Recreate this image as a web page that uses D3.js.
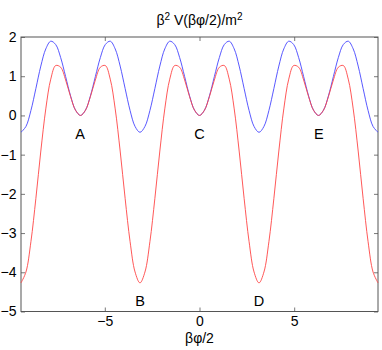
<!DOCTYPE html>
<html>
<head>
<meta charset="utf-8">
<script src="https://cdn.jsdelivr.net/npm/d3@7"></script>
<style>
  body { margin: 0; background: #fff; }
  text { font-family: "Liberation Sans", Arial, sans-serif; fill: #000; }
</style>
</head>
<body>
<div id="chart"></div>
<script>
// sample positions along βφ/2 (steps of π/12 from -3π to 3π)
const xs = [
  -9.425, -9.163, -8.901, -8.639, -8.378, -8.116, -7.854, -7.592, -7.330, -7.069, -6.807, -6.545,
  -6.283, -6.021, -5.760, -5.498, -5.236, -4.974, -4.712, -4.451, -4.189, -3.927, -3.665, -3.403,
  -3.142, -2.880, -2.618, -2.356, -2.094, -1.833, -1.571, -1.309, -1.047, -0.785, -0.524, -0.262,
  0,
  0.262, 0.524, 0.785, 1.047, 1.309, 1.571, 1.833, 2.094, 2.356, 2.618, 2.880, 3.142,
  3.403, 3.665, 3.927, 4.189, 4.451, 4.712, 4.974, 5.236, 5.498, 5.760, 6.021, 6.283,
  6.545, 6.807, 7.069, 7.330, 7.592, 7.854, 8.116, 8.378, 8.639, 8.901, 9.163, 9.425
];

// upper (blue) curve
const blueVals = [
  -0.430, -0.281, 0.126, 0.687, 1.259, 1.696, 1.893, 1.807, 1.474, 0.991, 0.498, 0.134,
  0, 0.134, 0.498, 0.991, 1.474, 1.807, 1.893, 1.696, 1.259, 0.687, 0.126, -0.281,
  -0.430, -0.281, 0.126, 0.687, 1.259, 1.696, 1.893, 1.807, 1.474, 0.991, 0.498, 0.134,
  0,
  0.134, 0.498, 0.991, 1.474, 1.807, 1.893, 1.696, 1.259, 0.687, 0.126, -0.281, -0.430,
  -0.281, 0.126, 0.687, 1.259, 1.696, 1.893, 1.807, 1.474, 0.991, 0.498, 0.134, 0,
  0.134, 0.498, 0.991, 1.474, 1.807, 1.893, 1.696, 1.259, 0.687, 0.126, -0.281, -0.430
];

// lower (red) curve
const redVals = [
  -4.270, -3.992, -3.219, -2.115, -0.908, 0.167, 0.925, 1.273, 1.228, 0.905, 0.479, 0.132,
  0, 0.132, 0.479, 0.905, 1.228, 1.273, 0.925, 0.167, -0.908, -2.115, -3.219, -3.992,
  -4.270, -3.992, -3.219, -2.115, -0.908, 0.167, 0.925, 1.273, 1.228, 0.905, 0.479, 0.132,
  0,
  0.132, 0.479, 0.905, 1.228, 1.273, 0.925, 0.167, -0.908, -2.115, -3.219, -3.992, -4.270,
  -3.992, -3.219, -2.115, -0.908, 0.167, 0.925, 1.273, 1.228, 0.905, 0.479, 0.132, 0,
  0.132, 0.479, 0.905, 1.228, 1.273, 0.925, 0.167, -0.908, -2.115, -3.219, -3.992, -4.270
];

const pointLabels = ["A", "B", "C", "D", "E"];
const pointX = [-6.3, -3.14, 0, 3.14, 6.3];
const pointY = [-0.47, -4.73, -0.47, -4.73, -0.47];

const xTicks = [-5, 0, 5];
const yTicks = [2, 1, 0, -1, -2, -3, -4, -5];

const width = 382, height = 350;
const margin = { top: 37, right: 4, bottom: 38.5, left: 21 };

const svg = d3.select("#chart").append("svg")
  .attr("width", width)
  .attr("height", height);

const x = d3.scaleLinear()
  .domain([-3 * Math.PI, 3 * Math.PI])
  .range([margin.left, width - margin.right]);
const y = d3.scaleLinear()
  .domain([-5, 2])
  .range([height - margin.bottom, margin.top]);

// axes with inward ticks, matlab style box
const axisColor = "#555";
const tickLen = 4;
const minus = d => d < 0 ? "\u2212" + Math.abs(d) : d;

const xb = svg.append("g")
  .attr("transform", `translate(0,${y(-5)})`)
  .call(d3.axisBottom(x).tickValues(xTicks).tickSize(-tickLen).tickPadding(5).tickFormat(minus));
const xt = svg.append("g")
  .attr("transform", `translate(0,${y(2)})`)
  .call(d3.axisTop(x).tickValues(xTicks).tickSize(-tickLen).tickFormat(""));
const yl = svg.append("g")
  .attr("transform", `translate(${x.range()[0]},0)`)
  .call(d3.axisLeft(y).tickValues(yTicks).tickSize(-tickLen).tickPadding(4.5).tickFormat(minus));
const yr = svg.append("g")
  .attr("transform", `translate(${x.range()[1]},0)`)
  .call(d3.axisRight(y).tickValues(yTicks).tickSize(-tickLen).tickFormat(""));

[xb, xt, yl, yr].forEach(g => {
  g.select(".domain").remove();
  g.selectAll(".tick line").attr("stroke", axisColor).attr("stroke-width", 0.8);
  g.selectAll(".tick text").attr("font-size", 14).attr("fill", "#000");
});

svg.append("rect")
  .attr("x", x.range()[0])
  .attr("y", y(2))
  .attr("width", x.range()[1] - x.range()[0])
  .attr("height", y(-5) - y(2))
  .attr("fill", "none")
  .attr("stroke", axisColor)
  .attr("stroke-width", 1);

const line = vals => d3.line()
  .x((d, i) => x(xs[i]))
  .y(d => y(d))
  .curve(d3.curveCatmullRom.alpha(0.5))(vals);

svg.append("path")
  .attr("d", line(blueVals))
  .attr("fill", "none")
  .attr("stroke", "#4545ff")
  .attr("stroke-width", 0.9);

svg.append("path")
  .attr("d", line(redVals))
  .attr("fill", "none")
  .attr("stroke", "#ff4545")
  .attr("stroke-width", 0.9);

// point labels
svg.append("g")
  .selectAll("text")
  .data(pointLabels)
  .enter()
  .append("text")
  .attr("x", (d, i) => x(pointX[i]))
  .attr("y", (d, i) => y(pointY[i]))
  .attr("dy", "0.36em")
  .attr("text-anchor", "middle")
  .attr("font-size", 14.5)
  .text(d => d);

// title
const title = svg.append("text")
  .attr("x", x(0))
  .attr("y", 25)
  .attr("text-anchor", "middle")
  .attr("font-size", 14);
title.append("tspan").text("\u03B2");
title.append("tspan").attr("dy", -5.5).attr("font-size", 10).text("2");
title.append("tspan").attr("dy", 5.5).text(" V(\u03B2\u03C6/2)/m");
title.append("tspan").attr("dy", -5.5).attr("font-size", 10).text("2");

// x label
svg.append("text")
  .attr("x", x(0))
  .attr("y", 343)
  .attr("text-anchor", "middle")
  .attr("font-size", 14)
  .text("\u03B2\u03C6/2");
</script>
</body>
</html>
